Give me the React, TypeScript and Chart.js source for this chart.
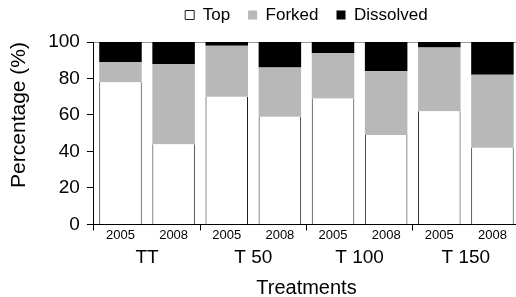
import React, { useEffect, useRef } from "react";
import { Chart, registerables } from "chart.js";

Chart.register(...registerables);

const years = ["2005", "2008", "2005", "2008", "2005", "2008", "2005", "2008"];
const groups = ["TT", "T 50", "T 100", "T 150"];
const yTicks = [0, 20, 40, 60, 80, 100];
const topValues = [78, 44, 70, 59, 69, 49, 62, 42];
const forkedValues = [11, 44, 28, 27, 25, 35, 35, 40];
const dissolvedValues = [11, 12, 2, 14, 6, 16, 3, 18];

const FONT = "'Liberation Sans', Arial, Helvetica, sans-serif";

export default function App() {
  const ref = useRef<HTMLCanvasElement | null>(null);

  useEffect(() => {
    if (!ref.current) return;
    Chart.defaults.color = "#000";
    Chart.defaults.font.family = FONT;
    const chart = new Chart(ref.current, {
      type: "bar",
      data: {
        labels: years,
        datasets: [
          {
            label: "Top",
            data: topValues,
            backgroundColor: "#ffffff",
            borderColor: "#222222",
            borderWidth: { left: 1, right: 1, top: 0, bottom: 0 },
            borderSkipped: false,
          },
          {
            label: "Forked",
            data: forkedValues,
            backgroundColor: "#b8b8b8",
            borderWidth: 0,
          },
          {
            label: "Dissolved",
            data: dissolvedValues,
            backgroundColor: "#000000",
            borderWidth: 0,
          },
        ],
      },
      options: {
        responsive: false,
        animation: false,
        maintainAspectRatio: false,
        datasets: { bar: { barPercentage: 0.8, categoryPercentage: 1 } },
        layout: { padding: { top: -11.5, left: 0, right: 0, bottom: 0 } },
        plugins: {
          tooltip: { enabled: false },
          title: {
            display: true,
            text: "",
            position: "top",
            weight: 500,
            fullSize: false,
            font: { size: 1, lineHeight: 1 },
            padding: { top: 0, bottom: 7.5 },
          },
          legend: {
            position: "top",
            fullSize: false,
            labels: {
              boxWidth: 9,
              boxHeight: 9,
              padding: 18,
              color: "#000",
              font: { size: 17, family: FONT },
              generateLabels: (c: any) => {
                const items = Chart.defaults.plugins.legend.labels.generateLabels(c);
                return items.map((it: any, i: number) => ({
                  ...it,
                  lineWidth: i === 0 ? 1 : 0,
                  strokeStyle: i === 0 ? "#222" : it.fillStyle,
                }));
              },
            },
          },
        },
        scales: {
          x: {
            type: "category",
            stacked: true,
            position: "bottom",
            weight: 0,
            offset: true,
            grid: {
              offset: true,
              drawOnChartArea: false,
              drawTicks: true,
              tickLength: 6,
              tickColor: (ctx: any) => (ctx.index % 2 === 0 ? "#000" : "rgba(0,0,0,0)"),
              color: "rgba(0,0,0,0)",
            },
            border: { display: true, color: "#000", width: 1 },
            ticks: {
              autoSkip: false,
              maxRotation: 0,
              padding: -3,
              color: "#000",
              font: { size: 13, family: FONT },
            },
          },
          x2: {
            type: "category",
            labels: groups,
            position: "bottom",
            weight: 1,
            offset: true,
            grid: { display: false, drawTicks: false },
            border: { display: false },
            ticks: {
              autoSkip: false,
              maxRotation: 0,
              padding: 8,
              color: "#000",
              font: { size: 19, family: FONT, lineHeight: 1.05 },
            },
            title: {
              display: true,
              text: "Treatments",
              color: "#000",
              font: { size: 20, family: FONT, lineHeight: 1.2 },
              padding: { top: 0, bottom: 0 },
            },
          },
          y: {
            stacked: true,
            min: 0,
            max: 100,
            afterBuildTicks: (axis: any) => {
              axis.ticks = yTicks.map((v) => ({ value: v }));
            },
            grid: {
              drawOnChartArea: true,
              drawTicks: true,
              tickLength: 7,
              tickColor: "#000",
              color: (ctx: any) => (ctx.tick && ctx.tick.value === 100 ? "#9a9a9a" : "rgba(0,0,0,0)"),
            },
            border: { display: true, color: "#000", width: 1 },
            ticks: {
              padding: 7,
              color: "#000",
              font: { size: 19, family: FONT },
            },
            title: {
              display: true,
              text: "Percentage (%)",
              align: "end",
              color: "#000",
              font: { size: 21, family: FONT, lineHeight: 1.2 },
              padding: { top: 7, bottom: 9 },
            },
          },
        },
      },
    } as any);
    return () => chart.destroy();
  }, []);

  return (
    <div style={{ position: "fixed", left: 0, top: 0, width: 519, height: 300 }}>
      <canvas ref={ref} width={519} height={300} style={{ display: "block", width: 519, height: 300 }} />
    </div>
  );
}
